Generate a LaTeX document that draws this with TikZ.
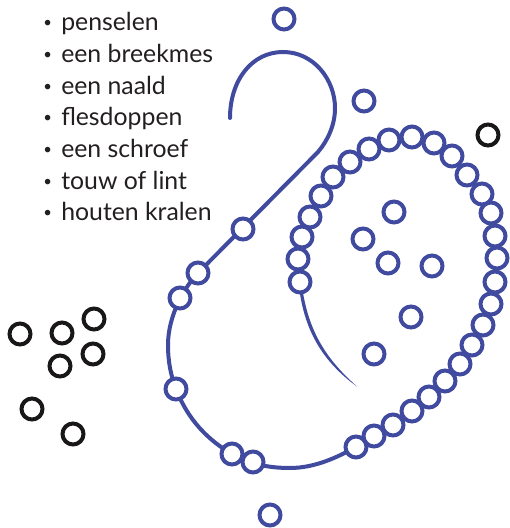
\documentclass[tikz,border=0pt]{standalone}
\usepackage{fontspec}
\setmainfont{Lato}
\usepackage{xcolor}
\definecolor{beadblue}{RGB}{64,75,160}
\definecolor{beadblack}{RGB}{26,23,24}
\definecolor{textgray}{RGB}{35,31,32}
\newcommand{\dotmark}{\llap{\raisebox{2.2pt}{\scalebox{0.6}{\textbullet}}\hspace{7pt}}}

\begin{document}
\begin{tikzpicture}[x=0.75pt, y=-0.75pt,
    bead/.style={draw=beadblue, line width=3pt, circle, fill=white, minimum size=15.75pt, inner sep=0pt},
    darkbead/.style={bead, draw=beadblack},
    rope/.style={draw=beadblue, line width=3pt, line cap=round},
    item/.style={anchor=base west, text=textgray, font=\fontsize{18.6}{19}\selectfont, inner sep=0pt}]
    \useasboundingbox (0,0) rectangle (510,528);

    % list of things
    \node (penselen) [item] at (61,30.7) {\dotmark penselen};
    \node (breekmes) [item] at (61,62.4) {\dotmark een breekmes};
    \node (naald) [item] at (61,94.1) {\dotmark een naald};
    \node (doppen) [item] at (61,125.8) {\dotmark flesdoppen};
    \node (schroef) [item] at (61,157.5) {\dotmark een schroef};
    \node (touw) [item] at (61,189.2) {\dotmark touw of lint};
    \node (kralen) [item] at (61,220.9) {\dotmark houten kralen};

    % the rope
    \draw[rope] (230,118) .. controls (230,80) and (252,52) .. (283,52)
        .. controls (314,52) and (335,80) .. (335,108)
        .. controls (335,125) and (328,140) .. (318,152)
        -- (199,272)
        .. controls (185,286) and (168,315) .. (168,345)
        .. controls (168,362) and (171,376) .. (176,389)
        .. controls (188,420) and (208,440) .. (232,454)
        .. controls (250,464) and (268,468) .. (290,468)
        .. controls (315,468) and (338,457) .. (356,447);
    \draw[rope] plot[smooth] coordinates {(356,447) (374,436) (393,425) (412,411) (429,397) (445,381) (460,364) (472,345) (483,325) (491,304) (495,282) (497,258) (495,236) (491,213) (482,194) (467,175) (452,156) (434,143) (412,137) (389,140) (369,149) (350,162) (333,177) (321,196) (310,217) (302,237) (298,259) (300,282)};
    \fill[beadblue] (298.5,282) .. controls (303,330) and (323,362) .. (357,386.5)
        .. controls (326,359) and (307,330) .. (301.5,282) -- cycle;

    % beads on the rope
    \node (c1) [bead] at (243,229) {};
    \node (c2) [bead] at (198,273) {};
    \node (c3) [bead] at (180,298) {};
    \node (c4) [bead] at (176,389) {};
    \node (c5) [bead] at (232,454) {};
    \node (c6) [bead] at (253,462) {};
    \node (r1) [bead] at (356,447) {};
    \node (r2) [bead] at (374,436) {};
    \node (r3) [bead] at (393,425) {};
    \node (r4) [bead] at (412,411) {};
    \node (r5) [bead] at (429,397) {};
    \node (r6) [bead] at (445,381) {};
    \node (r7) [bead] at (460,364) {};
    \node (r8) [bead] at (472,345) {};
    \node (r9) [bead] at (483,325) {};
    \node (r10) [bead] at (491,304) {};
    \node (r11) [bead] at (495,282) {};
    \node (r12) [bead] at (497,258) {};
    \node (r13) [bead] at (495,236) {};
    \node (r14) [bead] at (491,213) {};
    \node (r15) [bead] at (482,194) {};
    \node (r16) [bead] at (467,175) {};
    \node (r17) [bead] at (452,156) {};
    \node (r18) [bead] at (434,143) {};
    \node (r19) [bead] at (412,137) {};
    \node (r20) [bead] at (389,140) {};
    \node (r21) [bead] at (369,149) {};
    \node (r22) [bead] at (350,162) {};
    \node (r23) [bead] at (333,177) {};
    \node (r24) [bead] at (321,196) {};
    \node (r25) [bead] at (310,217) {};
    \node (r26) [bead] at (302,237) {};
    \node (r27) [bead] at (298,259) {};
    \node (r28) [bead] at (300,282) {};

    % loose beads
    \node (top) [bead] at (284,19) {};
    \node (near) [bead] at (364,101) {};
    \node (in1) [bead] at (394,212) {};
    \node (in2) [bead] at (363,239) {};
    \node (in3) [bead] at (388,263) {};
    \node (in4) [bead] at (432,266) {};
    \node (in5) [bead] at (411,317) {};
    \node (in6) [bead] at (374,354) {};
    \node (bottom) [bead] at (270,515) {};

    % black beads
    \node (k1) [darkbead] at (488,135) {};
    \node (k2) [darkbead] at (20,334) {};
    \node (k3) [darkbead] at (62,333) {};
    \node (k4) [darkbead] at (94,319) {};
    \node (k5) [darkbead] at (60,366) {};
    \node (k6) [darkbead] at (93,354) {};
    \node (k7) [darkbead] at (32,409) {};
    \node (k8) [darkbead] at (73,434) {};
\end{tikzpicture}
\end{document}
